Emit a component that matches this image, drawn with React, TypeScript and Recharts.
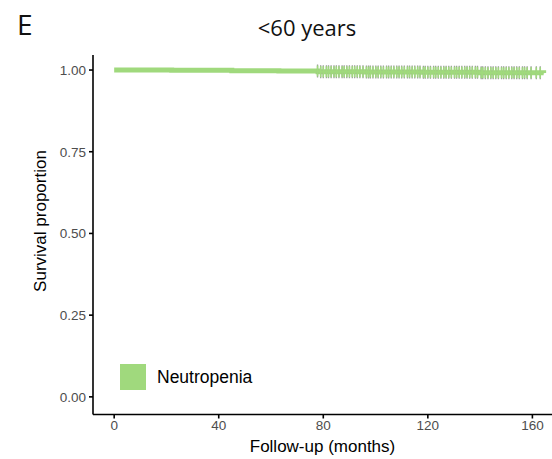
import React from 'react';
import { ComposedChart, Line, Scatter, XAxis, YAxis } from 'recharts';

// Kaplan-Meier steps (months, survival)
const stepTimes = [0, 22, 45, 63, 78, 96, 118, 140, 164.3];
const stepSurv = [1.0, 0.999, 0.998, 0.997, 0.995, 0.994, 0.993, 0.992, 0.991];

// censored observations (months)
const censorTimes = [
  77.8, 79, 80, 81.2, 82, 83, 84.1, 85, 86, 87.2, 88, 89, 90, 91.1, 92, 93, 94, 95.2,
  96.5, 97.3, 98, 99, 100.1, 101, 102, 103, 104.2, 105, 106, 107, 108.1, 109, 110,
  111, 112.2, 113, 114, 115, 116.1, 117, 118.3, 119, 120, 121, 122.2, 123, 124, 125,
  126.1, 127, 128, 129, 130.2, 131, 132, 133, 134.1, 135, 136, 137, 138.2, 139, 140.4,
  141, 142, 143, 144.1, 145, 146, 147, 148.2, 149, 150, 151, 152.1, 153, 154, 155,
  156.2, 157, 158, 159.5, 161.5, 163,
];

const xTicks = [0, 40, 80, 120, 160];
const yTicks = [0, 0.25, 0.5, 0.75, 1];

const GREEN = '#a0d97d';

const survAt = (t: number) => {
  let s = stepSurv[0];
  stepTimes.forEach((st, i) => {
    if (st <= t) s = stepSurv[i];
  });
  return s;
};

const lineData = stepTimes.map((time, i) => ({ time, surv: stepSurv[i] }));
const censorData = censorTimes.map((time) => ({ time, surv: survAt(time) }));

const CensorMark = (props: any) => {
  const { cx, cy } = props;
  if (cx == null || cy == null) return null;
  return (
    <g>
      <line x1={cx} x2={cx} y1={cy - 6.5} y2={cy + 6.5} stroke="#9a9a9a" strokeWidth={1.3} />
      <line x1={cx} x2={cx} y1={cy - 5.5} y2={cy + 5.5} stroke={GREEN} strokeWidth={1.6} />
      <line x1={cx - 4} x2={cx + 4} y1={cy} y2={cy} stroke={GREEN} strokeWidth={1.6} />
    </g>
  );
};

const tickStyle = {
  fontSize: 13.5,
  fill: '#4d4d4d',
  fontFamily: 'Liberation Sans, Arial, sans-serif',
};

export default function App() {
  return (
    <div
      style={{
        position: 'absolute',
        left: 0,
        top: 0,
        width: 552,
        height: 459,
        background: '#fff',
        overflow: 'hidden',
      }}
    >
      <div
        style={{
          position: 'absolute',
          left: 17,
          top: 5,
          fontFamily: 'Open Sans, sans-serif',
          fontSize: 28,
          color: '#111',
        }}
      >
        E
      </div>
      <div
        style={{
          position: 'absolute',
          left: 307,
          top: 12,
          transform: 'translateX(-50%)',
          fontFamily: 'Open Sans, sans-serif',
          fontSize: 22,
          color: '#111',
          whiteSpace: 'nowrap',
        }}
      >
        &lt;60 years
      </div>
      <ComposedChart
        width={552}
        height={459}
        margin={{ top: 55, right: 0, bottom: 0, left: 0 }}
        style={{ position: 'absolute', left: 0, top: 0 }}
      >
        <XAxis
          dataKey="time"
          type="number"
          domain={[-8.1, 167.5]}
          allowDataOverflow
          ticks={xTicks}
          height={44.5}
          stroke="#000"
          strokeWidth={1.6}
          tickSize={4}
          tick={tickStyle}
          tickMargin={2}
          label={{
            value: 'Follow-up (months)',
            position: 'insideBottom',
            offset: 7,
            style: {
              fontSize: 17,
              fill: '#000',
              fontFamily: 'Liberation Sans, Arial, sans-serif',
            },
          }}
        />
        <YAxis
          type="number"
          domain={[-0.054, 1.046]}
          allowDataOverflow
          ticks={yTicks}
          width={93}
          stroke="#000"
          strokeWidth={1.6}
          tickSize={4}
          tick={tickStyle}
          tickMargin={3}
          tickFormatter={(v: number) => v.toFixed(2)}
        />
        <Line
          data={lineData}
          dataKey="surv"
          type="stepAfter"
          stroke={GREEN}
          strokeWidth={5}
          dot={false}
          activeDot={false}
          isAnimationActive={false}
        />
        <Scatter
          data={censorData}
          dataKey="surv"
          shape={<CensorMark />}
          isAnimationActive={false}
        />
      </ComposedChart>
      <div
        style={{
          position: 'absolute',
          left: 41,
          top: 221,
          transform: 'translate(-50%, -50%) rotate(-90deg)',
          fontFamily: 'Liberation Sans, Arial, sans-serif',
          fontSize: 17,
          color: '#000',
          whiteSpace: 'nowrap',
        }}
      >
        Survival proportion
      </div>
      <div
        style={{
          position: 'absolute',
          left: 120,
          top: 364,
          display: 'flex',
          alignItems: 'center',
        }}
      >
        <div style={{ width: 26, height: 26, background: GREEN }} />
        <span
          style={{
            marginLeft: 11,
            fontFamily: 'Liberation Sans, Arial, sans-serif',
            fontSize: 17.5,
            color: '#000',
          }}
        >
          Neutropenia
        </span>
      </div>
    </div>
  );
}
